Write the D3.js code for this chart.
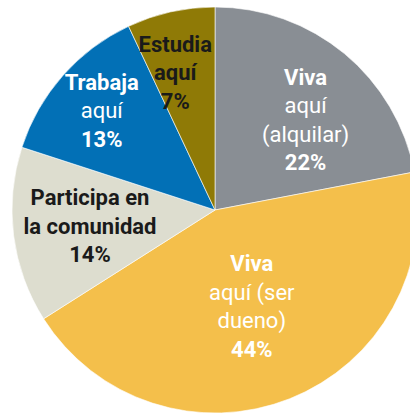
<!DOCTYPE html>
<html lang="es">
  <head>
    <meta charset="utf-8">
    <script src="https://d3js.org/d3.v7.min.js"></script>
    <style>
      body { margin: 0; background: #fff; }
      text { font-family: Roboto, "Noto Sans", sans-serif; }
    </style>
  </head>
  <body>
    <svg width="410" height="415"></svg>
    <script>
      // slices, clockwise from 12 o'clock
      var categories = ["Viva aquí (alquilar)", "Viva aquí (ser dueno)", "Participa en la comunidad", "Trabaja aquí", "Estudia aquí"];
      var values = [22, 44, 14, 13, 7];
      // how each label is broken into lines, and which lines are bold
      var labelLines = [
        ["Viva", "aquí", "(alquilar)"],
        ["Viva", "aquí (ser", "dueno)"],
        ["Participa en", "la comunidad"],
        ["Trabaja", "aquí"],
        ["Estudia", "aquí"]
      ];
      var boldLines = [
        [true, false, false],
        [true, false, false],
        [true, true],
        [true, false],
        [true, true]
      ];
      var colors = ["#898e94", "#f4bf4b", "#ddddcf", "#0270b6", "#8f7a06"];
      var textColors = ["#fff", "#fff", "#1a1a1a", "#fff", "#1a1a1a"];

      // label placement tweaks (radius of label centre, nudges)
      var labelR = [128, 100, 126, 151, 141];
      var nudgeX = [9, 0, 0, 0, -9];
      var nudgeY = [8, 3, 0, 0, 0];

      var svg = d3.select("svg"),
        cx = 215,
        cy = 210,
        radius = 203,
        lineH = 28.5;

      var g = svg.append("g").attr("transform", "translate(" + cx + "," + cy + ")");

      var pie = d3.pie().sort(null).value(function (d) { return d; });
      var arcs = pie(values);

      var arc = d3.arc().innerRadius(0).outerRadius(radius);

      g.selectAll("path")
        .data(arcs)
        .enter()
        .append("path")
        .attr("d", arc)
        .attr("fill", function (d, i) { return colors[i]; })
        .attr("stroke", "#fff")
        .attr("stroke-width", 0.6);

      // labels
      arcs.forEach(function (d, i) {
        var la = d3.arc().innerRadius(labelR[i]).outerRadius(labelR[i]);
        var c = la.centroid(d);
        var x = c[0] + nudgeX[i],
          y = c[1] + nudgeY[i];
        var lines = labelLines[i].concat([values[i] + "%"]);
        var bold = boldLines[i].concat([true]);
        var first = y - ((lines.length - 1) * lineH) / 2 + 8;
        var t = g.append("text")
          .attr("text-anchor", "middle")
          .attr("fill", textColors[i])
          .style("font-size", "22px");
        lines.forEach(function (s, k) {
          t.append("tspan")
            .attr("x", x)
            .attr("y", first + k * lineH)
            .style("font-weight", bold[k] ? "700" : "400")
            .text(s);
        });
      });
    </script>
  </body>
</html>
